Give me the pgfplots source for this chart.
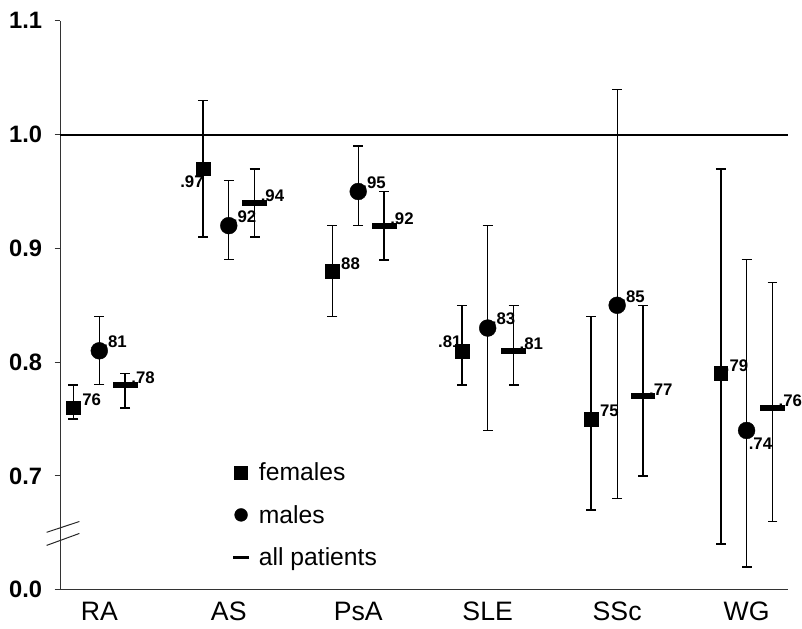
\documentclass[border=0pt]{standalone}
\usepackage{fontspec}
\setmainfont{Liberation Sans}
\usepackage{pgfplots}
\usepackage{pgfplotstable}
\pgfplotsset{compat=1.18}

% x = category index + offset, y = ratio, ep/em = upper/lower CI distance,
% dx/dy = offset of the value label centre from the point (bp)
\pgfplotstableread{
x    y    ep   em   lab  dx   dy
-0.2 0.76 0.02 0.01 .76  16   8
0.8  0.97 0.06 0.06 .97  -11  -13
1.8  0.88 0.04 0.04 .88  16   8
2.8  0.81 0.04 0.03 .81  -12  9
3.8  0.75 0.09 0.08 .75  16   8
4.8  0.79 0.18 0.15 .79  16   8
}\females
\pgfplotstableread{
x    y    ep   em   lab  dx   dy
0    0.81 0.03 0.03 .81  16   9
1    0.92 0.04 0.03 .92  16   9
2    0.95 0.04 0.03 .95  16   9
3    0.83 0.09 0.09 .83  16   9
4    0.85 0.19 0.17 .85  16   9
5    0.74 0.15 0.12 .74  14   -13
}\males
\pgfplotstableread{
x    y    ep   em   lab  dx   dy
0.2  0.78 0.01 0.02 .78  18   7
1.2  0.94 0.03 0.03 .94  18   7
2.2  0.92 0.03 0.03 .92  18   7
3.2  0.81 0.04 0.03 .81  18   7
4.2  0.77 0.08 0.07 .77  18   7
5.2  0.76 0.11 0.10 .76  18   7
}\allpat

\pgfplotsset{
  vallabels/.style={
    forget plot, draw=none, mark=none,
    point meta=explicit symbolic,
    visualization depends on={\thisrow{dx} \as \dx},
    visualization depends on={\thisrow{dy} \as \dy},
    nodes near coords,
    nodes near coords style={font=\bfseries\fontsize{17}{19}\selectfont,
      anchor=center, xshift=\dx bp, yshift=\dy bp, inner sep=0pt, black},
  },
  ci/.style={forget plot, only marks, black,
    error bars/y dir=both, error bars/y explicit,
    error bars/error bar style={line width=#1, black},
    error bars/error mark options={rotate=90, mark size=5bp, line width=#1, black}},
}

\begin{document}
\begin{tikzpicture}
\begin{axis}[
  width=734bp, height=574bp, scale only axis,
  xmin=-0.3, xmax=5.32, ymin=0.6, ymax=1.1,
  axis x line=bottom, axis y line=left,
  axis line style={-, line width=1.2bp, black!80},
  xtick={0,...,5}, xticklabels={RA,AS,PsA,SLE,SSc,WG},
  x tick style={draw=none},
  x tick label style={font=\fontsize{27}{30}\selectfont, yshift=-3bp},
  ytick={0.6,0.7,0.8,0.9,1.0,1.1},
  yticklabels={0.0,0.7,0.8,0.9,1.0,1.1},
  y tick label style={font=\bfseries\fontsize{24}{28}\selectfont, xshift=-9bp},
  y tick style={line width=1bp, black!80},
  tick align=outside, major tick length=6bp,
  clip=false,
  legend cell align=left,
  legend style={draw=none, fill=none, at={(0.233,0.23)}, anchor=north west,
    font=\fontsize{25}{30}\selectfont, row sep=19bp},
]
\addlegendimage{only marks, mark=square*, mark size=6.5bp, black}
\addlegendentry{\hspace{8bp}females}
\addlegendimage{only marks, mark=*, mark size=6.5bp, black}
\addlegendentry{\hspace{8bp}males}
\addlegendimage{only marks, mark=-, mark size=8bp, mark options={line width=3bp}, black}
\addlegendentry{\hspace{8bp}all patients}

\addplot[forget plot, black, line width=2bp] coordinates {(-0.3,1) (5.32,1)};

\addplot[ci=1.6bp, mark=square*, mark size=7bp]
  table[x=x, y=y, y error plus=ep, y error minus=em] {\females};
\addplot[ci=1.1bp, mark=*, mark size=8.5bp]
  table[x=x, y=y, y error plus=ep, y error minus=em] {\males};
\addplot[ci=1.6bp, mark=-, mark size=12.5bp, mark options={line width=6bp}]
  table[x=x, y=y, y error plus=ep, y error minus=em] {\allpat};

\addplot[vallabels] table[x=x, y=y, meta=lab] {\females};
\addplot[vallabels] table[x=x, y=y, meta=lab] {\males};
\addplot[vallabels] table[x=x, y=y, meta=lab] {\allpat};

% axis break
\draw[line width=1bp, black!85] (rel axis cs:-0.019,0.101) -- (rel axis cs:0.026,0.120);
\draw[line width=1bp, black!85] (rel axis cs:-0.019,0.078) -- (rel axis cs:0.026,0.099);
% margins round the axis, as in the reference
\path (rel axis cs:1,0) ++(7bp,-39bp);
\path (rel axis cs:0,1) ++(-61bp,21bp);
\end{axis}
\end{tikzpicture}
\end{document}
